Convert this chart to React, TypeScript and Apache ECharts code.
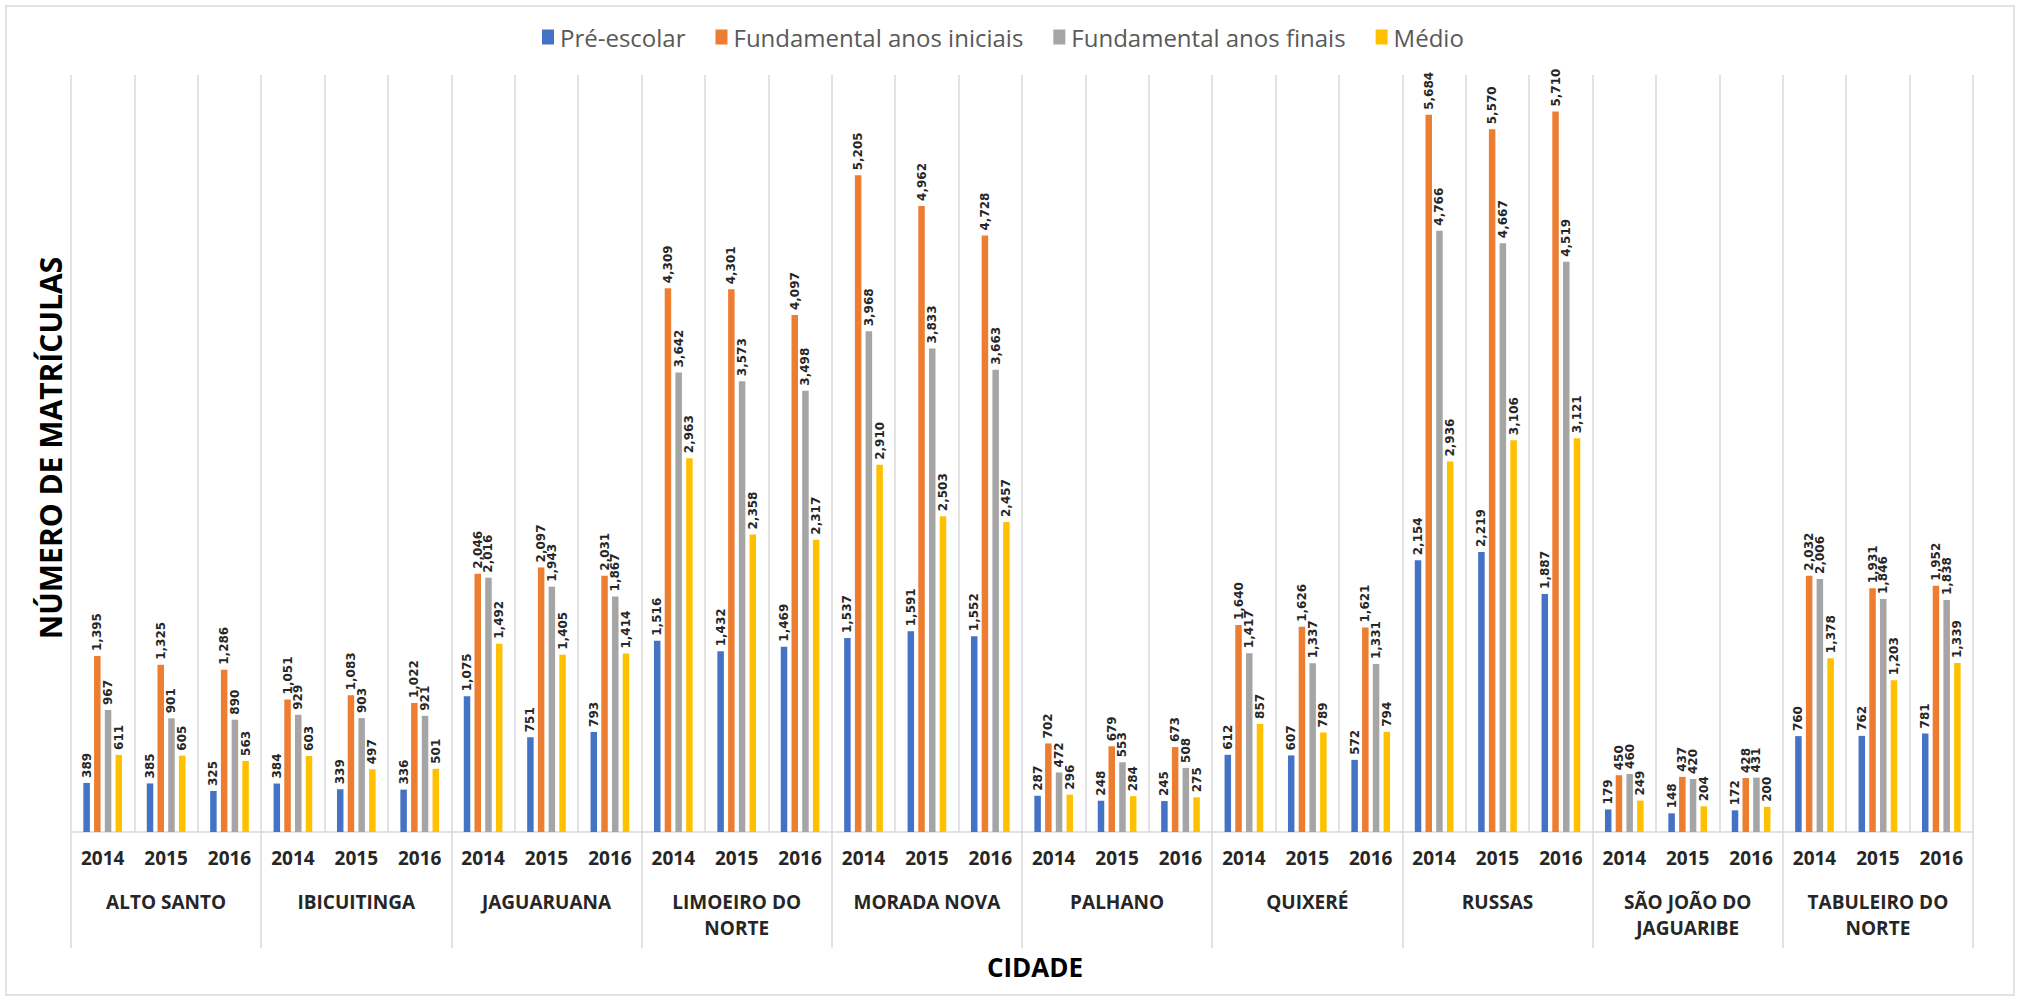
import React, { useEffect, useRef } from "react";
import * as echarts from "echarts";

const cities = [
  "ALTO SANTO",
  "IBICUITINGA",
  "JAGUARUANA",
  "LIMOEIRO DO\nNORTE",
  "MORADA NOVA",
  "PALHANO",
  "QUIXERÉ",
  "RUSSAS",
  "SÃO JOÃO DO\nJAGUARIBE",
  "TABULEIRO DO\nNORTE",
];
const years = ["2014", "2015", "2016"];
const seriesNames = [
  "Pré-escolar",
  "Fundamental anos iniciais",
  "Fundamental anos finais",
  "Médio",
];
const colors = ["#4472C4", "#ED7D31", "#A5A5A5", "#FFC000"];

// values per city, per year (2014, 2015, 2016)
const preEscolar = [
  389, 385, 325,
  384, 339, 336,
  1075, 751, 793,
  1516, 1432, 1469,
  1537, 1591, 1552,
  287, 248, 245,
  612, 607, 572,
  2154, 2219, 1887,
  179, 148, 172,
  760, 762, 781,
];
const fundIniciais = [
  1395, 1325, 1286,
  1051, 1083, 1022,
  2046, 2097, 2031,
  4309, 4301, 4097,
  5205, 4962, 4728,
  702, 679, 673,
  1640, 1626, 1621,
  5684, 5570, 5710,
  450, 437, 428,
  2032, 1931, 1952,
];
const fundFinais = [
  967, 901, 890,
  929, 903, 921,
  2016, 1943, 1867,
  3642, 3573, 3498,
  3968, 3833, 3663,
  472, 553, 508,
  1417, 1337, 1331,
  4766, 4667, 4519,
  460, 420, 431,
  2006, 1846, 1838,
];
const medio = [
  611, 605, 563,
  603, 497, 501,
  1492, 1405, 1414,
  2963, 2358, 2317,
  2910, 2503, 2457,
  296, 284, 275,
  857, 789, 794,
  2936, 3106, 3121,
  249, 204, 200,
  1378, 1203, 1339,
];
const allSeries = [preEscolar, fundIniciais, fundFinais, medio];

const yearCategories = cities.flatMap(() => years);

const FONT = "'Open Sans', 'DejaVu Sans', sans-serif";

export default function App() {
  const ref = useRef<HTMLDivElement>(null);

  useEffect(() => {
    if (!ref.current) return;
    const chart = echarts.init(ref.current, undefined, { renderer: "svg" });
    chart.setOption({
      animation: false,
      backgroundColor: "#ffffff",
      color: colors,
      legend: {
        top: 20,
        left: 537,
        itemWidth: 12,
        itemHeight: 15,
        itemGap: 30,
        icon: "rect",
        textStyle: {
          fontFamily: FONT,
          fontSize: 24,
          color: "#595959",
          padding: [0, 0, 0, 1],
        },
        data: seriesNames,
      },
      grid: {
        left: 71,
        right: 49,
        top: 75,
        bottom: 169,
        containLabel: false,
      },
      xAxis: [
        {
          type: "category",
          data: yearCategories,
          position: "bottom",
          axisLine: { show: true, lineStyle: { color: "#d9d9d9", width: 1.5 } },
          axisTick: { show: false },
          splitLine: { show: true, lineStyle: { color: "#d9d9d9", width: 1.5 } },
          axisLabel: {
            interval: 0,
            margin: 16,
            fontFamily: FONT,
            fontWeight: "bold",
            fontSize: 19,
            color: "#262626",
          },
        },
        {
          type: "category",
          data: cities,
          position: "bottom",
          axisLine: { show: false },
          axisTick: {
            show: true,
            length: 116,
            lineStyle: { color: "#d9d9d9", width: 1.5 },
          },
          splitLine: { show: false },
          axisLabel: {
            interval: 0,
            margin: 57,
            fontFamily: FONT,
            fontWeight: "bold",
            fontSize: 19,
            lineHeight: 26,
            color: "#262626",
          },
        },
      ],
      yAxis: {
        type: "value",
        min: 0,
        max: 6000,
        show: false,
        splitLine: { show: false },
      },
      graphic: [
        {
          type: "rect",
          shape: { x: 6, y: 6, width: 2008, height: 989 },
          style: { fill: "none", stroke: "#d9d9d9", lineWidth: 1.5 },
          silent: true,
        },
        {
          type: "text",
          x: 50,
          y: 448,
          rotation: Math.PI / 2,
          style: {
            text: "NÚMERO DE MATRÍCULAS",
            fontFamily: FONT,
            fontWeight: "bold",
            fontSize: 30,
            fill: "#000000",
            align: "center",
            verticalAlign: "middle",
          },
        },
        {
          type: "text",
          x: 1035,
          y: 967,
          style: {
            text: "CIDADE",
            fontFamily: FONT,
            fontWeight: "bold",
            fontSize: 26,
            fill: "#000000",
            align: "center",
            verticalAlign: "middle",
          },
        },
      ],
      series: seriesNames.map((name, i) => ({
        name,
        type: "bar",
        xAxisIndex: 0,
        barWidth: 6.5,
        barGap: "65%",
        data: allSeries[i],
        itemStyle: { color: colors[i] },
        label: {
          show: true,
          position: "top",
          rotate: 90,
          align: "left",
          verticalAlign: "middle",
          distance: 5,
          fontFamily: "'DejaVu Sans', sans-serif",
          fontWeight: "bold",
          fontSize: 12,
          color: "#262626",
          formatter: (p: any) => Number(p.value).toLocaleString("en-US"),
        },
      })),
    });
    return () => chart.dispose();
  }, []);

  return (
    <div
      ref={ref}
      style={{ position: "absolute", left: 0, top: 0, width: 2022, height: 1001 }}
    />
  );
}
